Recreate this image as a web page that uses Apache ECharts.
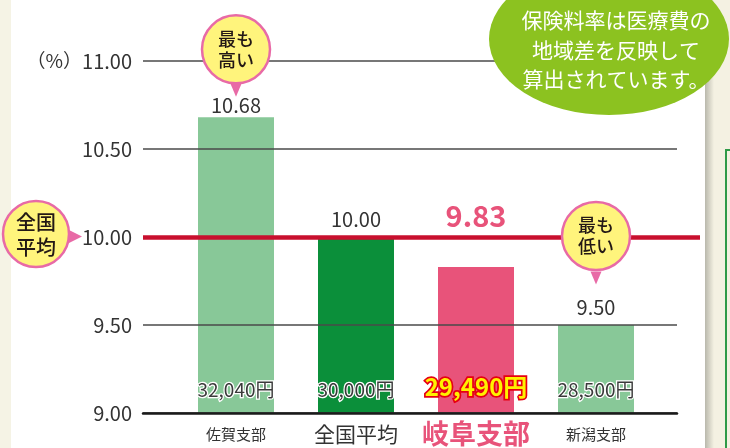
<!DOCTYPE html>
<html><head><meta charset="utf-8">
<script src="https://cdn.jsdelivr.net/npm/echarts@6/dist/echarts.min.js"></script>
<style>html,body{margin:0;padding:0;background:#fff}#c{width:730px;height:448px}</style>
</head><body><div id="c"></div>
<script>
// ---- data ----
const categories = ['佐賀支部', '全国平均', '岐阜支部', '新潟支部'];
const rates = [10.68, 10.00, 9.83, 9.50];
const premiums = [32040, 30000, 29490, 28500];
const yTicks = [9.00, 9.50, 10.00, 10.50, 11.00];
const nationalAverage = 10.00;
const highlightIndex = 2;
const averageIndex = 1;
const unitLabel = '（%）';
const noteLines = ['保険料率は医療費の', '地域差を反映して', '算出されています。'];
const maxCallout = '最も\n高い';
const minCallout = '最も\n低い';
const avgCallout = '全国\n平均';

// ---- styles ----
const FONT = "'Noto Sans CJK JP', 'Noto Sans', sans-serif";
const LIGHT_GREEN = '#88c898';
const DARK_GREEN = '#0b8f3a';
const PINK = '#e8537a';
const TEXT = '#333333';
const CALL_FILL = '#fff47c';
const CALL_BORDER = '#e86aa6';
const RED = '#c8102e';

function barColor(i) {
  if (i === highlightIndex) return PINK;
  if (i === averageIndex) return DARK_GREEN;
  return LIGHT_GREEN;
}

const rateData = rates.map((v, i) => {
  const item = { value: v, itemStyle: { color: barColor(i) } };
  if (i === highlightIndex) {
    item.label = { fontSize: 29, fontWeight: 'bold', color: PINK, distance: 36 };
  } else if (i === 0) {
    item.label = { distance: 2 };
  }
  return item;
});

const premiumData = rates.map((v, i) => {
  const item = { value: v };
  if (i === highlightIndex) {
    item.label = { fontSize: 24, fontWeight: 'bold', color: '#fff100', textBorderColor: '#e60012', textBorderWidth: 3.5 };
  }
  return item;
});

const chart = echarts.init(document.getElementById('c'), null, { renderer: 'canvas' });

const yMin = yTicks[0], yMax = yTicks[yTicks.length - 1];
const yStep = yTicks[1] - yTicks[0];

const option = {
  backgroundColor: '#ffffff',
  animation: false,
  textStyle: { fontFamily: FONT },
  grid: [
    { left: 176, right: 74, top: 61, bottom: 35 },
    { left: 143, right: 53, top: 61, bottom: 35 },
    { left: 143, right: 30, top: 61, bottom: 35 }
  ],
  xAxis: [
    {
      gridIndex: 0, type: 'category', data: categories,
      axisLine: { show: false }, axisTick: { show: false },
      axisLabel: {
        margin: 6,
        interval: 0,
        formatter: (v, i) => i === highlightIndex ? '{h|' + v + '}' : (i === averageIndex ? '{a|' + v + '}' : '{s|' + v + '}'),
        rich: {
          s: { fontSize: 15, color: TEXT, lineHeight: 30, fontFamily: FONT },
          a: { fontSize: 21, color: TEXT, lineHeight: 30, fontFamily: FONT },
          h: { fontSize: 27, color: PINK, fontWeight: 'bold', lineHeight: 30, fontFamily: FONT }
        }
      }
    },
    {
      gridIndex: 1, type: 'value', min: 0, max: 1, z: 6,
      axisLine: { show: true, lineStyle: { color: '#1a1a1a', width: 2.5 } },
      axisTick: { show: false }, axisLabel: { show: false }, splitLine: { show: false }
    },
    {
      gridIndex: 2, type: 'category', data: categories, show: false
    }
  ],
  yAxis: [
    { gridIndex: 0, type: 'value', min: yMin, max: yMax, show: false },
    {
      gridIndex: 1, type: 'value', min: yMin, max: yMax, interval: yStep, z: 3,
      axisLine: { show: false }, axisTick: { show: false },
      axisLabel: {
        margin: 11, fontSize: 20, color: TEXT, fontFamily: FONT,
        formatter: v => v === yMax ? '{u|' + unitLabel + '}' + v.toFixed(2) : v.toFixed(2),
        rich: { u: { fontSize: 19, color: TEXT, fontFamily: FONT } }
      },
      splitLine: { show: true, lineStyle: { color: '#4a4a4a', width: 1.5 } }
    },
    { gridIndex: 2, type: 'value', min: yMin, max: yMax, show: false }
  ],
  series: [
    {
      name: 'rate', type: 'bar', xAxisIndex: 0, yAxisIndex: 0,
      barWidth: 76, barGap: '-100%', z: 2,
      data: rateData,
      label: {
        show: true, position: 'top', distance: 8, fontSize: 20, color: TEXT, fontFamily: FONT,
        formatter: p => p.value.toFixed(2)
      },
      markPoint: {
        z: 10,
        symbol: 'circle', symbolSize: 68,
        itemStyle: { color: CALL_FILL, borderColor: CALL_BORDER, borderWidth: 2.5 },
        label: { show: true, color: '#231815', fontSize: 18, lineHeight: 21, fontWeight: 500, fontFamily: FONT },
        data: [
          { type: 'max', symbolOffset: [0, -68], label: { formatter: maxCallout } },
          { type: 'min', symbolOffset: [0, -89], label: { formatter: minCallout } }
        ]
      }
    },
    {
      name: 'premium', type: 'bar', xAxisIndex: 0, yAxisIndex: 0,
      barWidth: 76, barGap: '-100%', z: 3,
      itemStyle: { color: 'rgba(0,0,0,0)' },
      data: premiumData,
      label: {
        show: true, position: 'insideBottom', distance: 14, fontSize: 19, color: '#3a3a3a',
        textBorderColor: '#ffffff', textBorderWidth: 2.5, fontFamily: FONT,
        formatter: p => premiums[p.dataIndex].toLocaleString('en-US') + '円'
      },
      markPoint: {
        z: 9,
        symbol: 'triangle', symbolRotate: 180, symbolSize: [11, 13],
        itemStyle: { color: CALL_BORDER },
        label: { show: false },
        data: [
          { type: 'max', symbolOffset: [0, -27] },
          { type: 'min', symbolOffset: [0, -47] }
        ]
      }
    },
    {
      name: 'average', type: 'line', xAxisIndex: 2, yAxisIndex: 2, z: 4,
      data: rates, showSymbol: false, lineStyle: { opacity: 0 }, silent: true,
      markLine: {
        silent: true, symbol: 'none', z: 4,
        lineStyle: { color: RED, width: 4.5, type: 'solid' },
        label: { show: false },
        data: [{ yAxis: nationalAverage }]
      }
    }
  ],
  graphic: [
    { type: 'rect', z: 0, shape: { x: 0, y: 0, width: 11, height: 448 }, style: { fill: '#f5f3e5' } },
    { type: 'rect', z: 0, shape: { x: 706, y: 0, width: 24, height: 448 }, style: { fill: '#f4f1e2' } },
    { type: 'rect', z: 0, shape: { x: 705, y: 0, width: 9, height: 448 },
      style: { fill: new echarts.graphic.LinearGradient(0, 0, 1, 0, [
        { offset: 0, color: '#b9b8ac' }, { offset: 1, color: '#f4f1e2' }]) } },
    { type: 'rect', z: 0, shape: { x: 725, y: 149, width: 2, height: 299 }, style: { fill: '#2f9a48' } },
    { type: 'rect', z: 0, shape: { x: 725, y: 149, width: 5, height: 2 }, style: { fill: '#2f9a48' } },
    { type: 'circle', z: 20, x: 609, y: 39, scaleX: 120 / 76, shape: { cx: 0, cy: 0, r: 76 }, style: { fill: '#8cc220' } },
    { type: 'text', z: 21, x: 616, y: 50,
      style: { text: noteLines.join('\n'), fill: '#ffffff', fontSize: 21, lineHeight: 29.5, fontFamily: FONT,
        align: 'center', verticalAlign: 'middle' } },
    { type: 'polygon', z: 20, shape: { points: [[67, 229], [82, 236.5], [67, 244]] }, style: { fill: CALL_BORDER } },
    { type: 'circle', z: 21, shape: { cx: 36, cy: 234, r: 33 }, style: { fill: CALL_FILL, stroke: CALL_BORDER, lineWidth: 2.5 } },
    { type: 'text', z: 22, x: 36, y: 235,
      style: { text: avgCallout, fill: '#231815', fontSize: 20, lineHeight: 25, fontWeight: 500, fontFamily: FONT,
        align: 'center', verticalAlign: 'middle' } }
  ]
};
chart.setOption(option);
</script>
</body></html>
